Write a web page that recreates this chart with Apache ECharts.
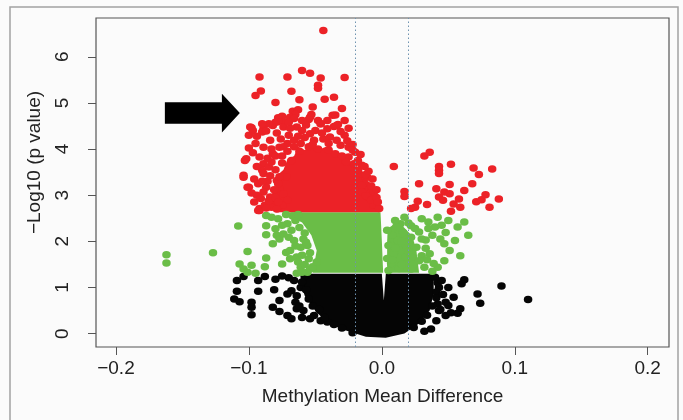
<!DOCTYPE html>
<html>
<head>
<meta charset="utf-8">
<script src="https://cdn.jsdelivr.net/npm/echarts@6/dist/echarts.min.js"></script>
<style>
  html, body { margin: 0; padding: 0; background: #fbfbfb; }
  #chart { width: 683px; height: 420px; }
</style>
</head>
<body>
<div id="chart"></div>
<script>
// tick labels and cut-off lines
var xTicks = [-0.2, -0.1, 0, 0.1, 0.2];
var yTicks = [0, 1, 2, 3, 4, 5, 6];
var cutoffs = [-0.02, 0.02];

// sparse points: [mean difference, -log10 p]
var redPoints = [
  [-0.044,6.57],[-0.060,5.70],[-0.054,5.64],[-0.092,5.56],[-0.071,5.56],[-0.046,5.54],[-0.028,5.55],
  [-0.048,5.38],[-0.048,5.32],[-0.091,5.26],[-0.095,5.16],[-0.068,5.25],[-0.080,5.01],[-0.062,5.07],
  [-0.043,5.08],[-0.036,5.12],[-0.052,4.91],[-0.030,4.88],[-0.067,4.82],[-0.063,4.85],[-0.065,4.75],
  [-0.069,4.69],[-0.075,4.71],[-0.078,4.68],[-0.080,4.58],[-0.073,4.59],[-0.066,4.66],[-0.054,4.69],
  [-0.053,4.75],[-0.055,4.64],[-0.048,4.62],[-0.046,4.55],[-0.037,4.73],[-0.035,4.74],[-0.033,4.53],
  [-0.036,4.49],[-0.099,4.48],[-0.089,4.45],
  [-0.103,3.75],[-0.104,3.39],[-0.100,3.17],[-0.098,4.46],[-0.100,4.30],[-0.090,4.37],[-0.087,4.39],
  [-0.082,4.51],[-0.078,4.59],[-0.074,4.48],[-0.064,4.48],[-0.054,4.33],[-0.046,4.55],[-0.041,4.44],
  [-0.034,4.51],[-0.095,4.12],[-0.089,4.04],[-0.084,4.19],[-0.092,3.83],[-0.089,3.68],[-0.090,3.54],
  [-0.082,3.90],[-0.077,4.04],[-0.071,4.12],[-0.066,4.19],[-0.061,4.12],[-0.051,4.19],[-0.044,4.22],
  [-0.039,4.26],[-0.034,4.19],[-0.031,4.08],[-0.025,4.04],[-0.020,3.93],[-0.015,3.65],[-0.011,3.39],
  [-0.013,3.17],[-0.010,2.96],[-0.006,2.78],[-0.002,2.71],[-0.087,3.17],[-0.089,3.07],[-0.084,2.96],
  [-0.082,2.81],[-0.092,2.71],[-0.079,3.32],[-0.077,3.14],[-0.074,3.03],[-0.071,2.89],[-0.075,2.78],
  [-0.089,3.47],[-0.085,3.61],[-0.083,3.72],[-0.025,3.83],[-0.021,3.68],[-0.018,3.54],[-0.027,3.72],
  [-0.018,3.32],[-0.015,3.21],[-0.015,3.07],[-0.012,2.99],[-0.008,2.89],[-0.006,3.07],
  [-0.102,3.79],[-0.104,3.43],[-0.101,3.17],[-0.092,2.67],[-0.097,4.40],[-0.093,2.67],[-0.088,2.78],
  [-0.083,2.74],[-0.080,3.85],[-0.075,3.70],[-0.080,3.55],[-0.072,3.40],[-0.078,3.25],[-0.068,3.75],
  [-0.062,3.95],[-0.055,4.05],[-0.048,4.00],[-0.040,3.98],[-0.035,3.90],[-0.030,3.85],[-0.058,4.25],
  [-0.070,4.30],[-0.076,4.22],[-0.050,4.40],[-0.060,4.40],[-0.028,4.30],[-0.022,4.10],[-0.018,3.75],
  [-0.012,3.45],[-0.008,3.20],[-0.004,2.95],[-0.085,2.88],[-0.079,2.70],[-0.086,3.30],[-0.094,3.00],
  [-0.096,2.85],
  [-0.100,4.02],[-0.097,3.92],[-0.094,3.62],[-0.096,3.35],[-0.093,3.25],[-0.098,3.05],[-0.091,2.93],
  [-0.087,2.72],[-0.084,3.42],[-0.081,3.12],[-0.080,2.95],[-0.086,3.80],[-0.083,4.00],[-0.079,4.35],
  [-0.074,4.05],[-0.069,4.45],[-0.063,4.28],[-0.057,4.52],[-0.052,4.10],[-0.045,4.35],[-0.040,4.12],
  [-0.031,4.38],[-0.026,4.18],[-0.022,3.98],[-0.016,3.88],[-0.013,3.62],[-0.010,3.52],[-0.007,3.35],
  [-0.004,3.12],[-0.003,2.85],[-0.078,2.85],[-0.077,3.40],[-0.075,3.85],[-0.071,3.95],[-0.066,4.05],
  [-0.090,3.30],[-0.094,4.28],[-0.085,4.55],[-0.070,4.58],[-0.060,4.62],[-0.041,4.62],[-0.028,4.62],
  [-0.025,4.45],[-0.090,4.55],
  [0.009,3.62],[0.032,3.85],[0.036,3.93],[0.052,3.67],[0.043,3.62],[0.043,3.54],[0.043,3.47],
  [0.069,3.59],[0.073,3.45],[0.083,3.57],[0.028,3.25],[0.051,3.23],[0.068,3.25],[0.017,3.08],
  [0.017,2.97],[0.041,3.14],[0.047,3.07],[0.043,2.96],[0.046,2.89],[0.054,2.81],[0.051,3.03],
  [0.062,3.10],[0.058,2.92],[0.059,2.74],[0.052,2.65],[0.027,2.87],[0.025,2.74],[0.022,2.71],
  [0.034,2.80],[0.071,2.86],[0.075,2.90],[0.078,3.01],[0.088,2.92],[0.081,2.74]
];

var greenPoints = [
  [-0.162,1.71],[-0.162,1.53],[-0.127,1.75],[-0.108,2.33],[-0.101,1.78],[-0.107,1.51],[-0.104,1.40],
  [-0.101,1.33],[-0.095,1.31],[-0.098,1.48],[-0.088,1.45],[-0.087,1.64],[-0.087,2.56],[-0.083,2.52],
  [-0.087,2.34],[-0.087,2.14],[-0.080,2.27],[-0.079,2.13],[-0.077,2.05],[-0.082,1.95],[-0.072,1.76],
  [-0.071,2.38],[-0.074,2.16],[-0.070,2.09],[-0.068,2.24],[-0.066,2.02],[-0.075,1.51],[-0.069,1.62],
  [-0.064,1.66],[-0.063,1.55],[-0.061,1.44],[-0.078,2.49],[-0.069,1.80],[-0.061,1.87],[-0.059,2.05],
  [-0.056,1.91],[-0.055,1.62],[-0.054,1.40],[-0.056,1.33],[-0.064,1.31],[-0.060,1.33],
  [-0.065,2.45],[-0.062,2.30],[-0.058,2.18],[-0.057,1.98],[-0.054,1.75],[-0.058,1.50],[-0.052,1.45],
  [-0.067,2.55],[-0.072,2.58],[-0.063,2.58],[-0.075,2.35],[-0.065,1.90],[-0.060,1.70],[-0.049,1.55],
  [0.062,2.42],[0.065,2.13],[0.059,1.69],[0.057,2.31],[0.050,2.45],[0.055,2.02],[0.047,1.95],
  [0.042,2.52],[0.040,2.31],[0.038,2.13],[0.036,1.73],[0.030,2.49],[0.028,2.20],[0.033,2.03],
  [0.042,1.44],[0.047,1.58],[0.039,1.52],[0.017,2.52],[0.014,2.38],[0.011,2.32],[0.008,2.13],
  [0.012,2.02],[0.009,1.73],[0.007,1.52],[0.022,2.09],[0.026,1.87],[0.018,1.66],[0.024,1.51],
  [0.032,1.44],[0.005,1.91],[0.005,1.37],[0.013,1.41],[0.018,1.91],[0.022,2.34],[0.016,2.19],
  [0.030,1.69],[0.035,2.28],[0.048,2.19],[0.051,1.80],[0.004,2.24],[0.004,1.63],
  [0.010,2.45],[0.020,2.40],[0.025,2.28],[0.030,2.05],[0.033,1.85],[0.034,1.60],[0.028,1.58],
  [0.020,1.78],[0.015,2.00],[0.010,1.85],[0.008,1.60],[0.015,1.50],[0.022,1.40],[0.038,1.35],
  [0.044,2.05],[0.035,2.42],[0.045,2.35]
];

var blackPoints = [
  [-0.109,1.15],[-0.104,1.24],[-0.093,1.15],[-0.088,1.24],[-0.109,0.92],[-0.111,0.75],[-0.107,0.69],
  [-0.098,0.68],[-0.098,0.57],[-0.098,0.41],[-0.093,0.92],[-0.081,0.95],[-0.077,0.72],[-0.082,0.57],
  [-0.077,0.48],[-0.071,0.86],[-0.068,0.93],[-0.066,1.15],[-0.070,1.21],[-0.071,0.39],[-0.068,0.32],
  [-0.065,0.68],[-0.064,0.54],[-0.060,0.35],[-0.054,0.32],[-0.059,0.50],[-0.061,1.00],[-0.064,0.82],
  [-0.051,0.39],[-0.046,0.28],[-0.041,0.25],
  [-0.058,1.25],[-0.060,1.12],[-0.057,0.95],[-0.055,0.75],[-0.052,0.60],[-0.047,0.52],[-0.043,0.35],
  [-0.036,0.20],[-0.030,0.12],[-0.022,0.02],[-0.075,1.25],[-0.080,1.18],[-0.062,0.60],
  [0.090,1.03],[0.062,1.17],[0.060,1.08],[0.072,0.86],[0.074,0.66],[0.054,0.79],[0.048,0.68],
  [0.050,0.61],[0.043,1.00],[0.041,0.90],[0.059,0.54],[0.057,0.44],[0.048,0.39],[0.042,0.64],
  [0.043,0.50],[0.041,0.28],[0.037,0.10],[0.110,0.74],
  [0.040,1.22],[0.042,1.10],[0.041,0.78],[0.038,0.60],[0.034,0.40],[0.030,0.27],[0.024,0.13],
  [0.046,0.85],[0.050,1.00],[0.045,1.15],[0.032,0.05],[0.044,0.52],[0.052,0.45]
];

// outlines of the areas where the dots merge into solid colour
var redCore = [
  [-0.080,2.63],[-0.002,2.63],[-0.002,2.85],[-0.005,3.00],[-0.008,3.25],[-0.012,3.35],[-0.015,3.55],
  [-0.020,3.62],[-0.025,3.78],[-0.030,3.90],[-0.036,3.95],[-0.042,4.05],[-0.048,3.98],[-0.053,4.10],
  [-0.058,3.98],[-0.063,4.05],[-0.066,3.85],[-0.071,3.78],[-0.074,3.55],[-0.079,3.42],[-0.078,3.20],
  [-0.083,3.02],[-0.081,2.82]
];
var greenCoreLeft = [
  [-0.069,2.63],[-0.001,2.63],[0.000,2.02],[0.001,1.32],[-0.052,1.32],[-0.049,1.80],
  [-0.053,2.13],[-0.060,2.41],[-0.069,2.54]
];
var greenCoreRight = [
  [0.0045,2.28],[0.011,2.41],[0.016,2.32],[0.023,2.11],[0.026,1.80],[0.028,1.32],[0.004,1.32],[0.004,2.02]
];
var blackCore = [
  [-0.061,1.30],[0.000,1.30],[0.0015,0.72],[0.003,1.30],[0.039,1.30],[0.039,0.87],[0.036,0.50],
  [0.028,0.22],[0.017,0.00],[0.003,-0.09],[-0.012,-0.07],[-0.027,0.07],[-0.040,0.22],[-0.049,0.46],
  [-0.058,0.82],[-0.061,1.09]
];

// arrow annotation, in data units
var arrowShape = [
  [-0.1632,4.546],[-0.1203,4.546],[-0.1203,4.36],[-0.1068,4.78],[-0.1203,5.20],[-0.1203,5.014],[-0.1632,5.014]
];

var RED = '#ec2227', GREEN = '#6abd47', BLACK = '#050505';
var FONT = 'Liberation Sans';

function coreSeries(pts, color) {
  return {
    type: 'custom',
    silent: true,
    data: pts,
    encode: { x: 0, y: 1 },
    renderItem: function (params, api) {
      if (params.dataIndex !== 0) return null;
      return {
        type: 'polygon',
        shape: { points: pts.map(function (p) { return api.coord(p); }) },
        style: { fill: color }
      };
    }
  };
}

function dots(pts, color) {
  return {
    type: 'scatter',
    silent: true,
    data: pts,
    symbol: 'circle',
    symbolSize: [8.5, 7.5],
    itemStyle: { color: color, opacity: 1 }
  };
}

var chart = echarts.init(document.getElementById('chart'));

var option = {
  animation: false,
  backgroundColor: '#fbfbfb',
  grid: {
    left: 96, top: 18, width: 573, height: 329,
    show: true, borderColor: '#555', borderWidth: 1.2, backgroundColor: 'transparent'
  },
  xAxis: {
    type: 'value', min: -0.215, max: 0.216,
    name: 'Methylation Mean Difference',
    nameLocation: 'middle', nameGap: 40,
    nameTextStyle: { fontFamily: FONT, fontSize: 19, color: '#222' },
    axisLine: { show: false, onZero: false },
    splitLine: { show: false },
    axisTick: { show: true, length: 8, customValues: xTicks, lineStyle: { color: '#555' } },
    axisLabel: {
      customValues: xTicks, margin: 12,
      fontFamily: FONT, fontSize: 19, color: '#222',
      formatter: function (v) { return (v < -1e-9 ? '\u2212' : '') + Math.abs(v).toFixed(1); }
    }
  },
  yAxis: {
    type: 'value', min: -0.29, max: 6.84,
    name: '\u2212Log10 (p value)',
    nameLocation: 'middle', nameGap: 52, nameRotate: 90,
    nameTextStyle: { fontFamily: FONT, fontSize: 19, color: '#222', padding: [0, 0, 0, 40] },
    axisLine: { show: false, onZero: false },
    splitLine: { show: false },
    axisTick: { show: true, length: 8, customValues: yTicks, lineStyle: { color: '#555' } },
    axisLabel: {
      customValues: yTicks, rotate: 90, margin: 24,
      fontFamily: FONT, fontSize: 19, color: '#222'
    }
  },
  series: [
    coreSeries(blackCore, BLACK),
    dots(blackPoints, BLACK),
    coreSeries(greenCoreLeft, GREEN),
    coreSeries(greenCoreRight, GREEN),
    dots(greenPoints, GREEN),
    coreSeries(redCore, RED),
    Object.assign(dots(redPoints, RED), {
      markLine: {
        silent: true, symbol: 'none', label: { show: false },
        lineStyle: { type: [1.5, 2.5], color: '#6f93b0', width: 1 },
        data: cutoffs.map(function (c) { return { xAxis: c }; })
      }
    })
  ]
};

chart.setOption(option);

chart.setOption({
  graphic: [
    {
      type: 'rect', silent: true,
      shape: { x: 10, y: 7, width: 668, height: 430 },
      style: { fill: null, stroke: '#a3a3a3', lineWidth: 1.5 }
    },
    {
      type: 'polygon', silent: true, z: 10,
      shape: { points: arrowShape.map(function (p) { return chart.convertToPixel({ gridIndex: 0 }, p); }) },
      style: { fill: '#000' }
    }
  ]
});
</script>
</body>
</html>
